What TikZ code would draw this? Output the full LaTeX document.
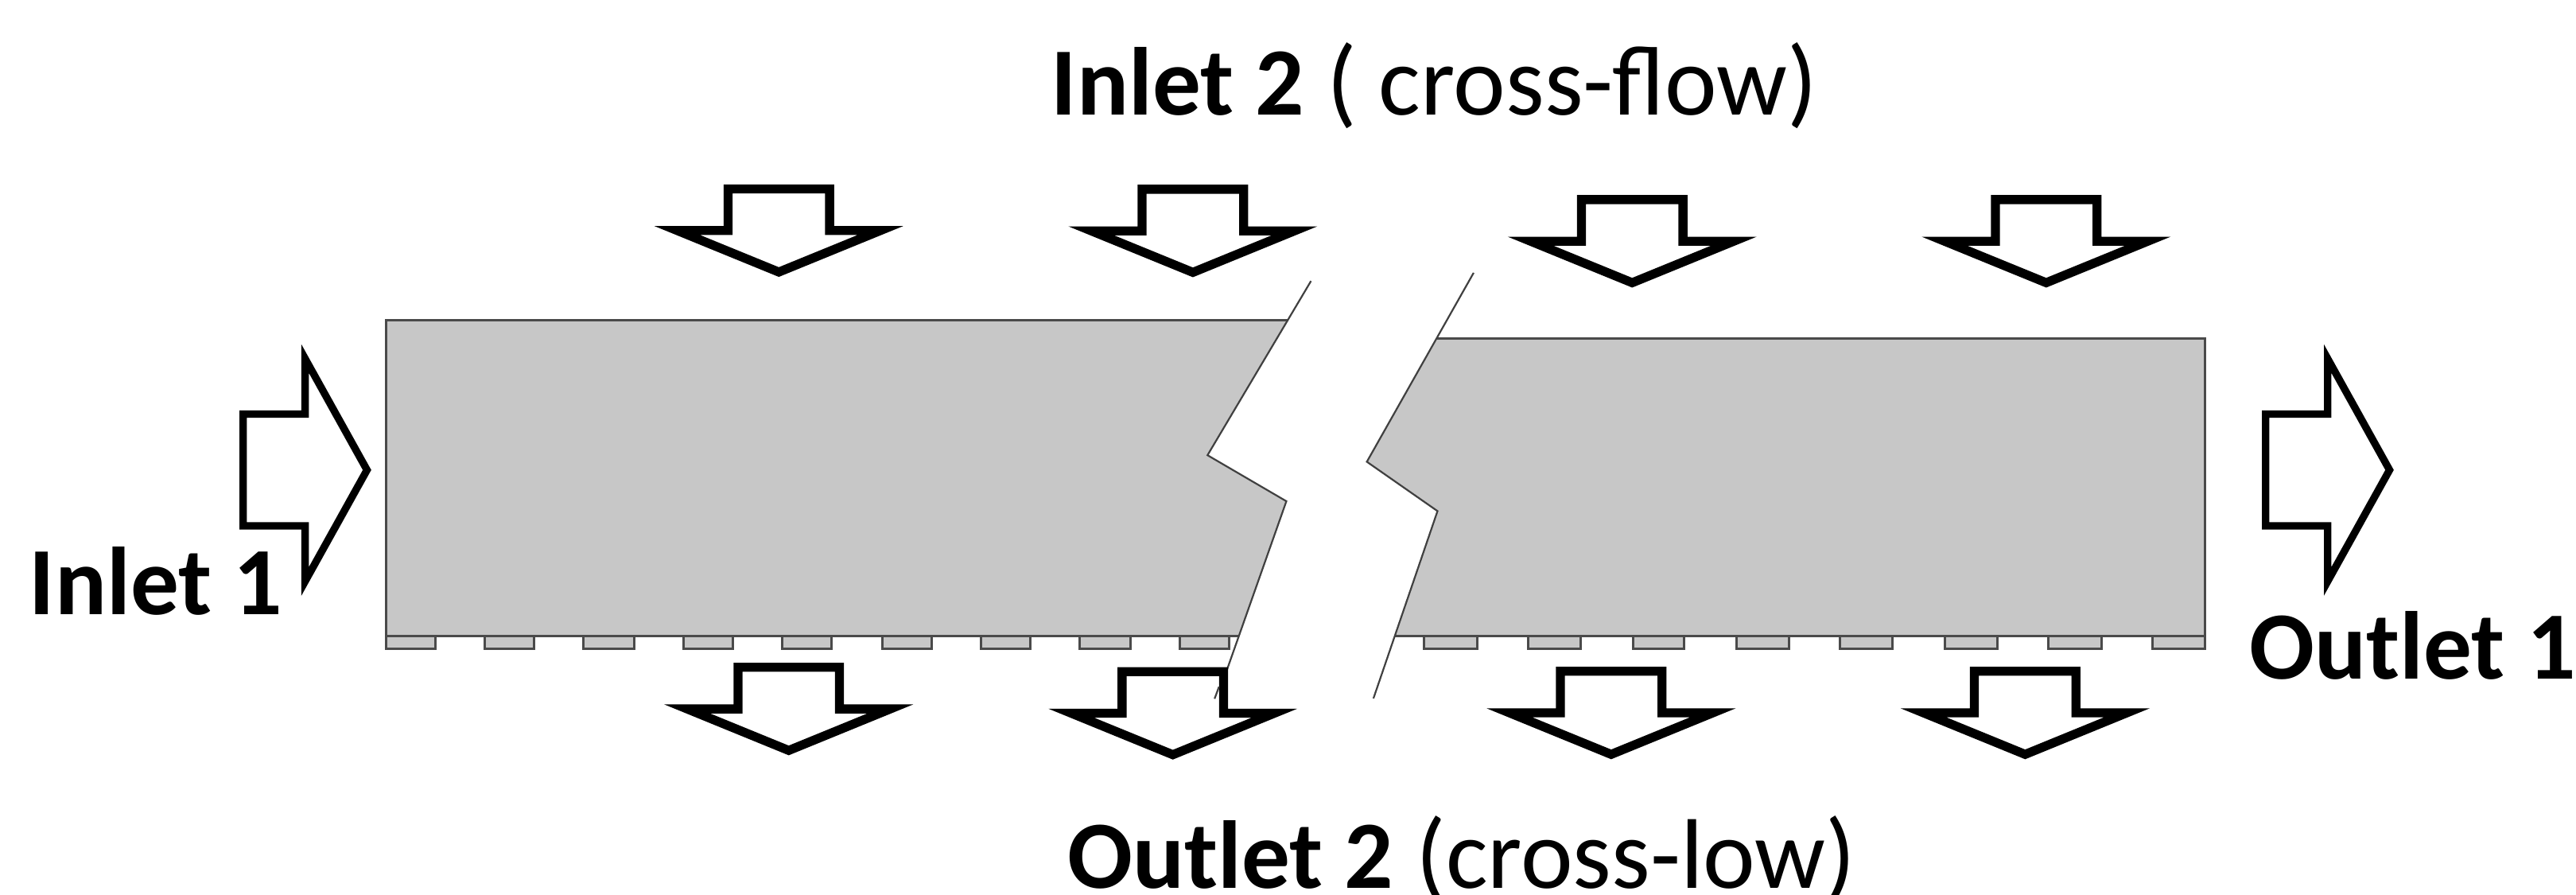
\documentclass[tikz,border=0pt]{standalone}
\usepackage{fontspec}
\setmainfont{Carlito}
\definecolor{blockgrey}{HTML}{C7C7C7}
\definecolor{edgegrey}{HTML}{4A4A4A}
\newcommand{\regsize}{\fontsize{35.4}{40}\selectfont}
\tikzset{
  downarrow/.style={draw=black,line width=0.113cm,fill=white,miter limit=20,line join=miter},
  sidearrow/.style={draw=black,line width=0.093cm,fill=white,miter limit=20,line join=miter},
  blockface/.style={fill=blockgrey,draw=none},
  blockedge/.style={draw=edgegrey,line width=0.03cm},
  breakline/.style={draw=black!75,line width=0.022cm},
  tooth/.style={fill=blockgrey,draw=edgegrey,line width=0.03cm},
  label/.style={inner sep=0pt,anchor=base west,font=\fontsize{34.5}{40}\selectfont}
}
\begin{document}
\begin{tikzpicture}[x=0.020657cm,y=-0.020657cm]
\useasboundingbox (0,0) rectangle (1568,544.6);
% blocks
\path[blockface] (235,195) -- (784,195) -- (735,277) -- (783,305) -- (754,387) -- (235,387) -- cycle;
\draw[blockedge] (784,195) -- (235,195) -- (235,387) -- (754,387);
\path[blockface] (875,206) -- (1342,206) -- (1342,387) -- (849,387) -- (875,311) -- (832,281) -- cycle;
\draw[blockedge] (875,206) -- (1342,206) -- (1342,387) -- (849,387);
% break lines
\draw[breakline] (798,171) -- (735,277) -- (783,305) -- (740,427);
\draw[breakline] (897,166) -- (832,281) -- (875,311) -- (836,425);
% teeth
\foreach \a/\b in {235/265,295/325,355/386,416/446,476/506,537/567,597/627,657/688,718/748,867/899,930/962,994/1025,1057/1089,1120/1152,1184/1216,1247/1279,1310/1342}
  \draw[tooth] (\a,387) rectangle (\b,395);
% down arrows
\foreach \c/\t in {474.07/112.3,726.1/112.5,993.5/118.8,1245.5/118.8,480.1/403.4,713.9/406,980.7/405.8,1232.7/405.8}
  \draw[downarrow,shift={(\c,\t)}] (-30.9,2.66) -- (-30.9,28) -- (-61.8,28) -- (0,53.25) -- (61.8,28) -- (30.9,28) -- (30.9,2.66) -- cycle;
% right arrows
\foreach \c in {148,1379.1}
  \draw[sidearrow,shift={(\c,286)}] (0,-34) -- (37.7,-34) -- (37.7,-67.8) -- (75.4,0) -- (37.7,67.8) -- (37.7,34) -- (0,34) -- cycle;
% stub of the break line inside the arrow
\draw[breakline] (742,417.9) -- (739.3,425.2);
% labels
\node[label] (inleta) at (17.5,374) {\textbf{Inlet 1}};
\node[label] (outleta) at (1369,413) {\textbf{Outlet 1}};
\node[label] (inletb) at (639.5,70) {\textbf{Inlet 2}{\regsize{} ( cross-flow)}};
\node[label] (outletb) at (649.5,540.5) {\textbf{Outlet 2}{\regsize{} (cross-low)}};
\end{tikzpicture}
\end{document}
